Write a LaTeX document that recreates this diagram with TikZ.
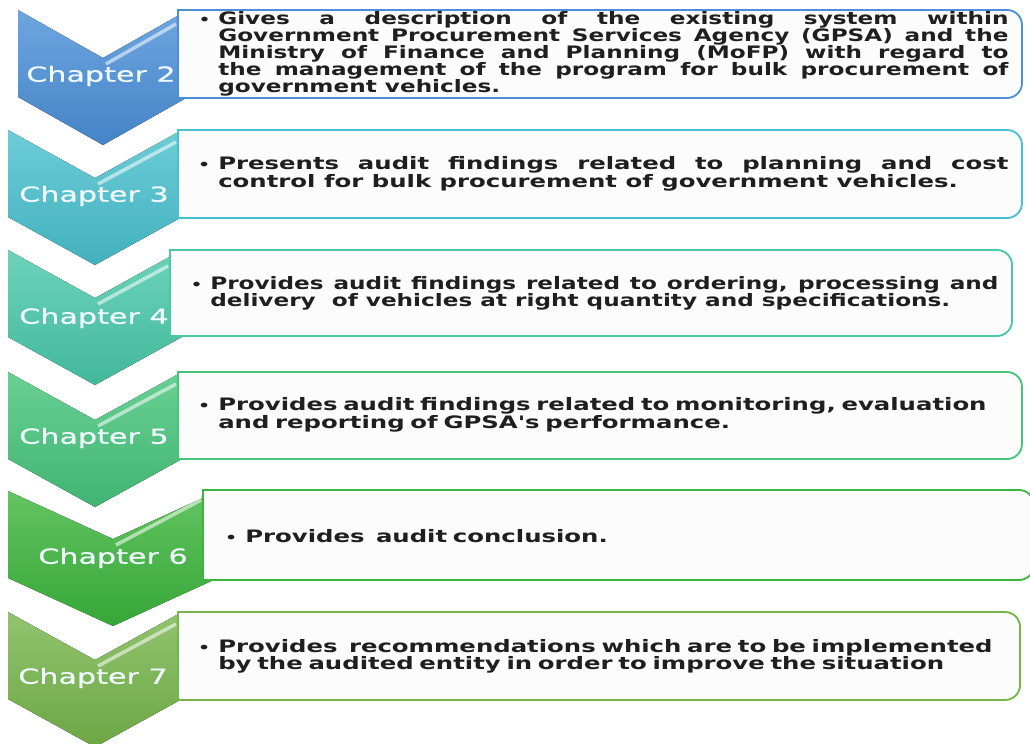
\documentclass[tikz,border=0pt]{standalone}
\usepackage{fontspec}
\setmainfont{DejaVu Sans}
\newfontfamily\chapfont{DejaVu Sans}[FakeStretch=1.45,FakeBold=0.6]
\newfontfamily\itemfont{DejaVu Sans Bold}[FakeStretch=1.42]
\newfontfamily\itemfontnarrow{DejaVu Sans Bold}[FakeStretch=1.35]

\definecolor{chA}{HTML}{4A8FD8}
\definecolor{chB}{HTML}{48C0CE}
\definecolor{chC}{HTML}{48C8A8}
\definecolor{chD}{HTML}{45C47A}
\definecolor{chE}{HTML}{3BB53B}
\definecolor{chF}{HTML}{76B54A}

\begin{document}
\begin{tikzpicture}[x=0.025cm,y=0.025cm,
  chev/.style={top color=#1!80!white,bottom color=#1!92!black},
  shine/.style={white,opacity=.55,line width=2.5pt},
  itembox/.style={draw=#1,line width=1.3pt,fill=black!1},
  chap/.style={font=\chapfont\fontsize{14.8}{16}\selectfont,text=white!94!cyan,inner sep=0pt},
  item/.style={font=\itemfont\fontsize{12.2}{11.9}\selectfont,text=black!88,
    anchor=west,inner sep=0pt,text width=#1},
  tight/.style={font=\itemfontnarrow\fontsize{12.2}{12.1}\selectfont}]
  \newcommand\bul{\llap{{\fontsize{9.5}{9}\selectfont\textbullet}\hspace{0.2cm}}}
  \useasboundingbox (0,0) rectangle (1030,-743);

  % ===== Chapter 2 =====
  \fill[chev=chA] (18,-10) -- ++(85,-48) -- ++(85,48) -- ++(0,-87) -- ++(-85,-48) -- ++(-85,48) -- cycle;
  \draw[shine] (106,-64) -- (176,-24);
  \node[chap] (c2) at (101,-76) {Chapter 2};
  \path[itembox=chA] (178,-10) -- (1007,-10) arc[start angle=90,end angle=0,radius=0.375cm]
    -- (1022,-83) arc[start angle=0,end angle=-90,radius=0.375cm] -- (178,-98) -- cycle;
  \node[item=19.75cm,tight,align=justify] (t2) at (218,-54) {\bul Gives a description of the existing system within\linebreak
    Government Procurement Services Agency (GPSA) and the\linebreak
    Ministry of Finance and Planning (MoFP) with regard to\linebreak
    the management of the program for bulk procurement of\linebreak
    government vehicles.};

  % ===== Chapter 3 =====
  \fill[chev=chB] (8,-130) -- ++(87,-48) -- ++(87,48) -- ++(0,-87) -- ++(-87,-48) -- ++(-87,48) -- cycle;
  \draw[shine] (98,-184) -- (176,-142);
  \node[chap] (c3) at (94,-196) {Chapter 3};
  \path[itembox=chB] (178,-130) -- (1007,-130) arc[start angle=90,end angle=0,radius=0.375cm]
    -- (1022,-203) arc[start angle=0,end angle=-90,radius=0.375cm] -- (178,-218) -- cycle;
  \node[item=19.75cm,align=justify] (t3) at (218,-174) {\bul Presents audit findings related to planning and cost\linebreak
    control for bulk procurement of government vehicles.};

  % ===== Chapter 4 =====
  \fill[chev=chC] (8,-250) -- ++(87,-48) -- ++(87,48) -- ++(0,-87) -- ++(-87,-48) -- ++(-87,48) -- cycle;
  \draw[shine] (98,-304) -- (168,-266);
  \node[chap] (c4) at (94,-318) {Chapter 4};
  \path[itembox=chC] (170,-250) -- (997,-250) arc[start angle=90,end angle=0,radius=0.375cm]
    -- (1012,-321) arc[start angle=0,end angle=-90,radius=0.375cm] -- (170,-336) -- cycle;
  \node[item=19.7cm,tight,align=justify] (t4) at (210,-293) {\bul Provides audit findings related to ordering, processing and\linebreak
    delivery\ \ of vehicles at right quantity and specifications.};

  % ===== Chapter 5 =====
  \fill[chev=chD] (8,-372) -- ++(87,-48) -- ++(87,48) -- ++(0,-87) -- ++(-87,-48) -- ++(-87,48) -- cycle;
  \draw[shine] (98,-426) -- (176,-384);
  \node[chap] (c5) at (94,-438) {Chapter 5};
  \path[itembox=chD] (178,-372) -- (1007,-372) arc[start angle=90,end angle=0,radius=0.375cm]
    -- (1022,-444) arc[start angle=0,end angle=-90,radius=0.375cm] -- (178,-459) -- cycle;
  \node[item=20cm,align=left] (t5) at (218,-415) {\bul Provides audit findings related to monitoring, evaluation\\
    and reporting of GPSA's performance.};

  % ===== Chapter 6 =====
  \fill[chev=chE] (8,-491) -- ++(105,-48) -- ++(105,48) -- ++(0,-87) -- ++(-105,-48) -- ++(-105,48) -- cycle;
  \draw[shine] (116,-545) -- (201,-500);
  \node[chap] (c6) at (113,-558) {Chapter 6};
  \path[itembox=chE] (203,-490) -- (1019,-490) arc[start angle=90,end angle=0,radius=0.375cm]
    -- (1034,-565) arc[start angle=0,end angle=-90,radius=0.375cm] -- (203,-580) -- cycle;
  \node[item=19cm,align=left] (t6) at (245,-536) {\bul Provides\ \ audit conclusion.};

  % ===== Chapter 7 =====
  \fill[chev=chF] (8,-612) -- ++(87,-48) -- ++(87,48) -- ++(0,-87) -- ++(-87,-48) -- ++(-87,48) -- cycle;
  \draw[shine] (98,-666) -- (176,-624);
  \node[chap] (c7) at (93,-678) {Chapter 7};
  \path[itembox=chF] (178,-612) -- (1005,-612) arc[start angle=90,end angle=0,radius=0.375cm]
    -- (1020,-685) arc[start angle=0,end angle=-90,radius=0.375cm] -- (178,-700) -- cycle;
  \node[item=20cm,align=left] (t7) at (218,-656) {\bul Provides\ \ recommendations which are to be implemented\\
    by the audited entity in order to improve the situation};
\end{tikzpicture}
\end{document}
